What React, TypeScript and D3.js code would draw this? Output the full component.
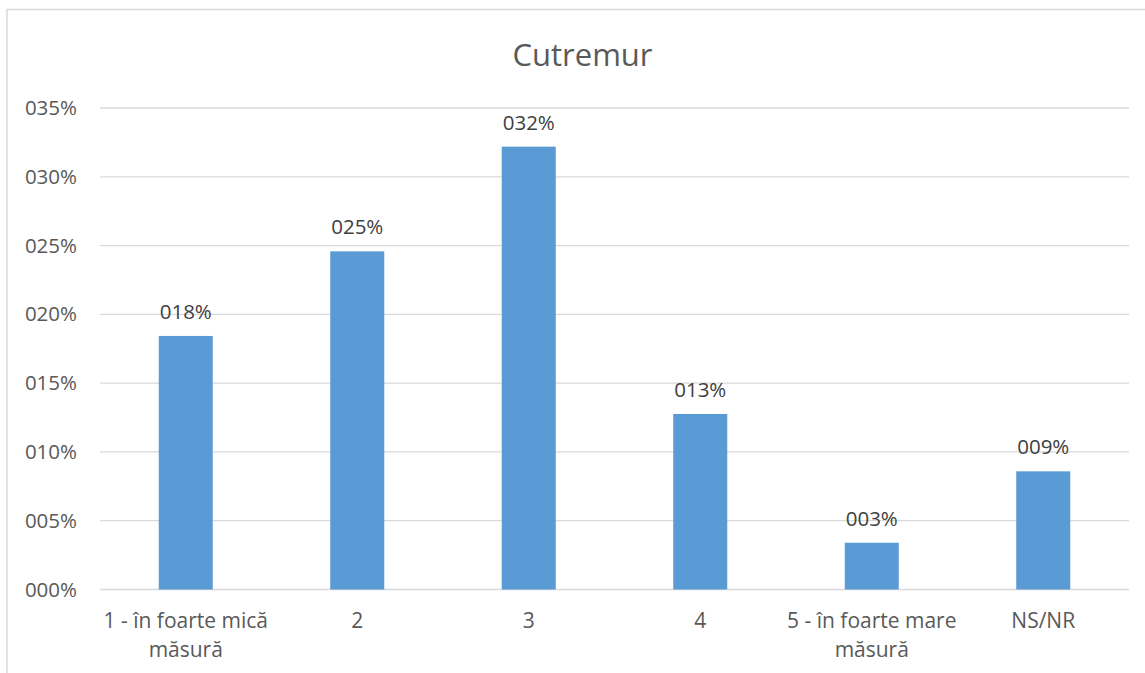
import React from "react";
import * as d3 from "d3";

const categories: string[][] = [
  ["1 - în foarte mică", "măsură"],
  ["2"],
  ["3"],
  ["4"],
  ["5 - în foarte mare", "măsură"],
  ["NS/NR"],
];
const values: number[] = [18.43, 24.58, 32.19, 12.76, 3.4, 8.59];
const yTicks: number[] = [0, 5, 10, 15, 20, 25, 30, 35];
const title = "Cutremur";

const W = 1145;
const H = 673;
const left = 100;
const right = 1129;
const top = 108;
const bottom = 589.5;
const FONT = "'Open Sans', 'Noto Sans', sans-serif";
const TEXT = "#595959";

const pad3 = (n: number) => String(Math.round(n)).padStart(3, "0") + "%";

export default function App() {
  const x = d3
    .scaleBand<number>()
    .domain(values.map((_, i) => i))
    .range([left, right])
    .paddingInner(0.685)
    .paddingOuter(0.3425);
  const y = d3.scaleLinear().domain([0, 35]).range([bottom, top]);

  return (
    <svg
      width={W}
      height={H}
      style={{ position: "absolute", left: 0, top: 0, background: "#fff" }}
      fontFamily={FONT}
    >
      <rect x={7} y={9.5} width={W + 20} height={H + 20} fill="#fff" stroke="#D9D9D9" strokeWidth={1.5} />
      <text x={582.5} y={65.7} textAnchor="middle" fontSize={31} fill={TEXT}>
        {title}
      </text>
      {yTicks.map((t) => (
        <g key={t}>
          <line x1={left} x2={right} y1={y(t)} y2={y(t)} stroke="#D9D9D9" strokeWidth={1.3} />
          <text x={77} y={y(t) + 7} textAnchor="end" fontSize={20.5} fill={TEXT}>
            {pad3(t)}
          </text>
        </g>
      ))}
      {values.map((v, i) => {
        const bx = x(i)!;
        const bw = x.bandwidth();
        const cx = bx + bw / 2;
        return (
          <g key={i}>
            <rect x={bx} y={y(v)} width={bw} height={y(0) - y(v)} fill="#5B9BD5" />
            <text x={cx} y={y(v) - 17} textAnchor="middle" fontSize={20.5} fill="#404040">
              {pad3(v)}
            </text>
            {categories[i].map((line, j) => (
              <text key={j} x={cx} y={628.3 + j * 28.4} textAnchor="middle" fontSize={21} fill={TEXT}>
                {line}
              </text>
            ))}
          </g>
        );
      })}
    </svg>
  );
}
